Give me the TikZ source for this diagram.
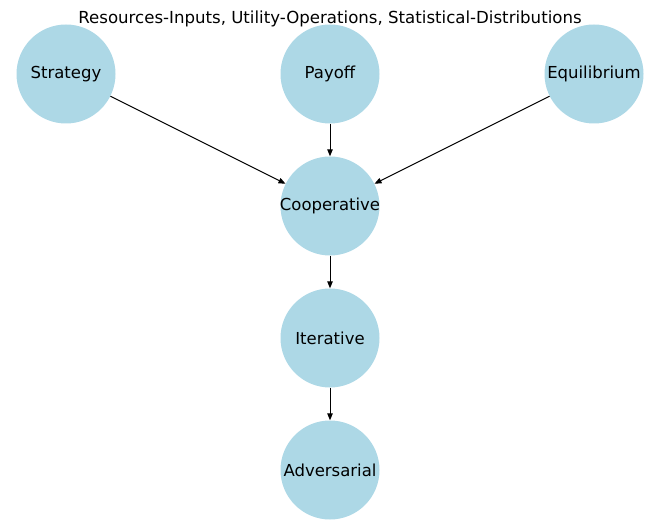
\documentclass[tikz,border=0pt]{standalone}
\usepackage{fontspec}
\setmainfont{DejaVu Sans}
\usetikzlibrary{arrows.meta}
\newcommand\nlbl[1]{\makebox[0pt]{#1}}
\begin{document}
\begin{tikzpicture}[x=1pt,y=1pt,
  gnode/.style={circle,fill=lightblue,minimum size=99pt,inner sep=0pt,font=\fontsize{16.5}{19}\selectfont},
  edge/.style={draw=black,line width=1pt,-{Triangle[length=7pt,width=5.5pt]}}]
\definecolor{lightblue}{HTML}{ADD8E6}
\useasboundingbox (0,0) rectangle (660,522);
\node[font=\fontsize{16.6}{19}\selectfont] (title) at (330,503) {Resources-Inputs, Utility-Operations, Statistical-Distributions};
\node[gnode] (s) at (66,448) {\nlbl{Strategy}};
\node[gnode] (p) at (330,448) {\nlbl{Payoff}};
\node[gnode] (e) at (594,448) {\nlbl{Equilibrium}};
\node[gnode] (c) at (330,316) {\nlbl{Cooperative}};
\node[gnode] (i) at (330,184) {\nlbl{Iterative}};
\node[gnode] (a) at (330,52) {\nlbl{Adversarial}};
\draw[edge] (s) -- (c);
\draw[edge] (p) -- (c);
\draw[edge] (e) -- (c);
\draw[edge] (c) -- (i);
\draw[edge] (i) -- (a);
\end{tikzpicture}
\end{document}
